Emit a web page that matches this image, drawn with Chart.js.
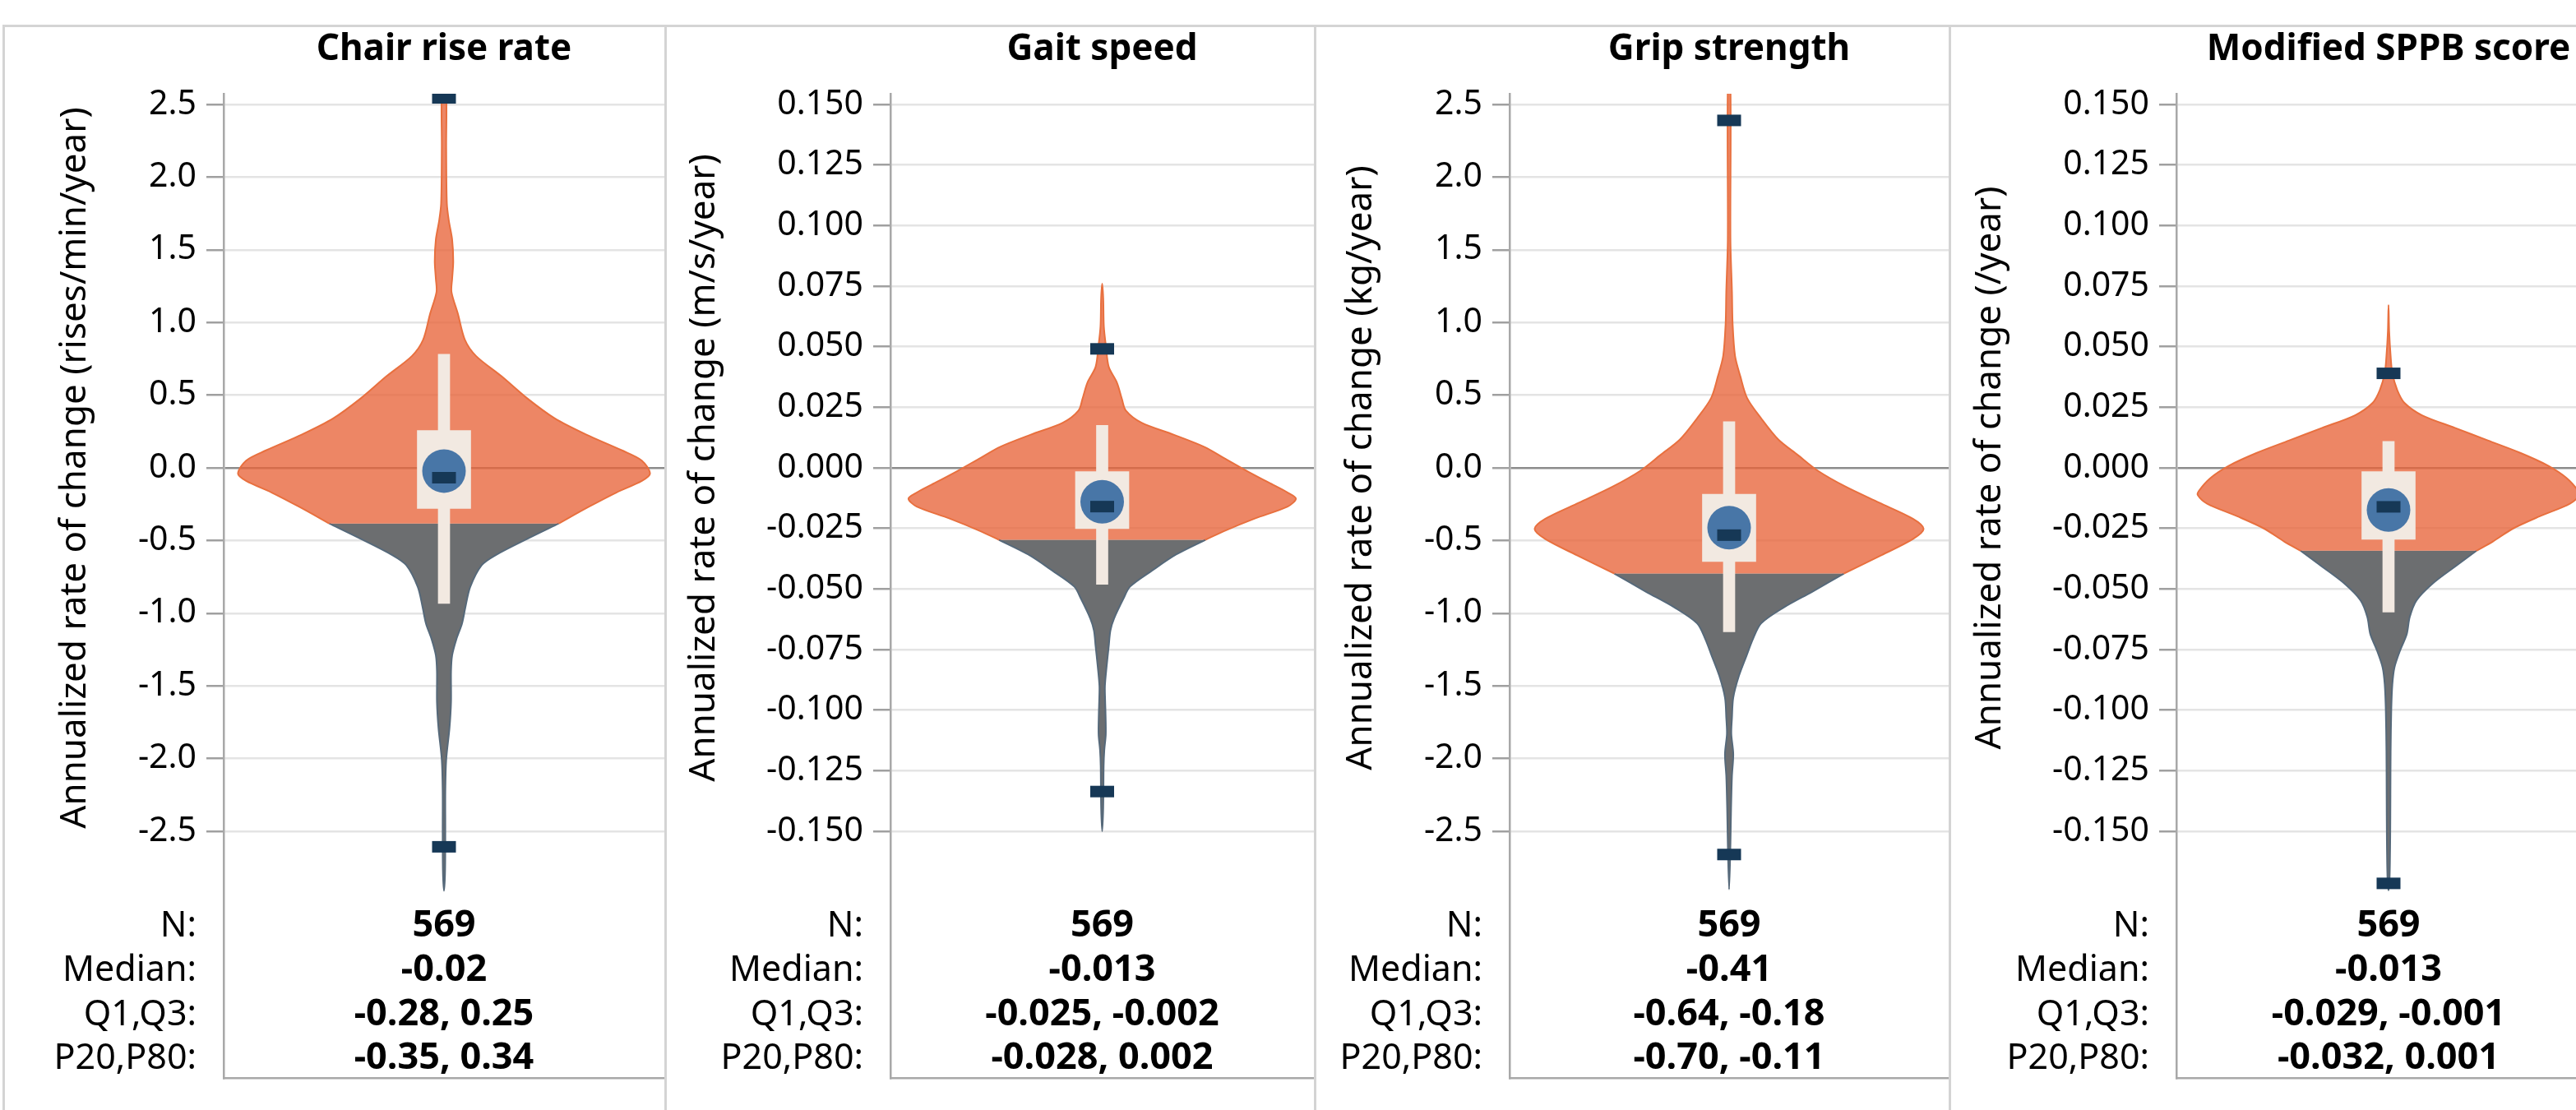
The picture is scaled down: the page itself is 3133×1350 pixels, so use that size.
<!DOCTYPE html>
<html lang="en">
<head>
<meta charset="UTF-8">
<title>Annualized rate of change</title>
<script src="https://cdn.jsdelivr.net/npm/chart.js"></script>
<style>
    body {
        margin: 0;
        width: 3133px;
        height: 1350px;
        overflow: hidden;
        position: relative;
        background: #fff;
        font-family: "Noto Sans", sans-serif;
    }
    .frame {
        position: absolute;
        top: 30px;
        height: 1330px;
        border-left: 3px solid #d4d4d4;
        border-top: 3px solid #d4d4d4;
    }
    .panel {
        position: absolute;
        top: 0;
        height: 1350px;
    }
</style>
</head>
<body>
<div class="frame" style="left:3px; width:805px"></div>
<div class="frame" style="left:808px; width:790px"></div>
<div class="frame" style="left:1598px; width:772px"></div>
<div class="frame" style="left:2370px; width:800px"></div>

<div class="panel" style="left:6px; width:802px"><canvas id="c0"></canvas></div>
<div class="panel" style="left:811px; width:787px"><canvas id="c1"></canvas></div>
<div class="panel" style="left:1601px; width:769px"><canvas id="c2"></canvas></div>
<div class="panel" style="left:2373px; width:790px"><canvas id="c3"></canvas></div>

<script>
// ---- data ----
const panelTitles = ['Chair rise rate', 'Gait speed', 'Grip strength', 'Modified SPPB score'];
const axisTitles = [
    'Annualized rate of change (rises/min/year)',
    'Annualized rate of change (m/s/year)',
    'Annualized rate of change (kg/year)',
    'Annualized rate of change (/year)'
];

const statLabels = ['N:', 'Median:', 'Q1,Q3:', 'P20,P80:'];
const statN = ['569', '569', '569', '569'];
const statMedian = ['-0.02', '-0.013', '-0.41', '-0.013'];
const statQ1Q3 = ['-0.28, 0.25', '-0.025, -0.002', '-0.64, -0.18', '-0.029, -0.001'];
const statP20P80 = ['-0.35, 0.34', '-0.028, 0.002', '-0.70, -0.11', '-0.032, 0.001'];

const ticksRate = [-2.5, -2.0, -1.5, -1.0, -0.5, 0.0, 0.5, 1.0, 1.5, 2.0, 2.5];
const ticksRateLabels = ['-2.5', '-2.0', '-1.5', '-1.0', '-0.5', '0.0', '0.5', '1.0', '1.5', '2.0', '2.5'];
const ticksSmall = [-0.150, -0.125, -0.100, -0.075, -0.050, -0.025, 0.000, 0.025, 0.050, 0.075, 0.100, 0.125, 0.150];
const ticksSmallLabels = ['-0.150', '-0.125', '-0.100', '-0.075', '-0.050', '-0.025', '0.000', '0.025', '0.050', '0.075', '0.100', '0.125', '0.150'];
const rangeRate = [-4.197, 2.5735];
const rangeSmall = [-0.2518, 0.1544];

// violin outlines: level (y value) and half width (in x-axis units, plot half width = 1)
const chairLevels = [2.62, 2.20, 1.82, 1.70, 1.57, 1.42, 1.30, 1.21, 1.06, 0.88, 0.77, 0.63, 0.48, 0.34, 0.23, 0.12, 0.05, -0.04, -0.09, -0.17, -0.27, -0.383, -0.49, -0.60, -0.67, -0.82, -0.96, -1.07, -1.18, -1.29, -1.40, -1.61, -1.79, -2.01, -2.23, -2.48, -2.77, -2.91];
const chairWidths = [0.009, 0.010, 0.013, 0.022, 0.037, 0.042, 0.037, 0.034, 0.063, 0.095, 0.145, 0.261, 0.376, 0.503, 0.644, 0.808, 0.898, 0.935, 0.898, 0.782, 0.655, 0.521, 0.376, 0.235, 0.171, 0.119, 0.097, 0.082, 0.056, 0.037, 0.032, 0.032, 0.025, 0.010, 0.006, 0.006, 0.005, 0];

const gaitLevels = [0.0760, 0.0700, 0.0582, 0.0500, 0.0417, 0.0351, 0.0285, 0.0236, 0.0186, 0.0137, 0.0087, 0.0038, -0.0012, -0.0061, -0.0102, -0.0127, -0.0160, -0.0209, -0.0259, -0.0297, -0.0358, -0.0424, -0.0490, -0.0539, -0.0622, -0.0671, -0.0737, -0.0820, -0.0900, -0.0960, -0.1017, -0.1100, -0.1166, -0.1230, -0.1400, -0.1500];
const gaitWidths = [0, 0.005, 0.008, 0.018, 0.031, 0.070, 0.093, 0.112, 0.186, 0.337, 0.481, 0.581, 0.682, 0.787, 0.876, 0.915, 0.876, 0.721, 0.581, 0.488, 0.349, 0.236, 0.132, 0.101, 0.056, 0.039, 0.031, 0.021, 0.013, 0.014, 0.016, 0.017, 0.010, 0.007, 0.005, 0];

const gripLevels = [2.62, 1.57, 1.21, 0.99, 0.77, 0.63, 0.48, 0.34, 0.195, 0.087, -0.02, -0.13, -0.24, -0.35, -0.42, -0.49, -0.60, -0.727, -0.853, -0.96, -1.07, -1.18, -1.29, -1.43, -1.58, -1.72, -1.83, -1.97, -2.12, -2.34, -2.59, -2.90];
const gripWidths = [0.006, 0.006, 0.013, 0.016, 0.027, 0.051, 0.082, 0.146, 0.224, 0.314, 0.404, 0.531, 0.684, 0.837, 0.886, 0.837, 0.695, 0.523, 0.378, 0.250, 0.146, 0.108, 0.080, 0.045, 0.019, 0.013, 0.010, 0.019, 0.013, 0.009, 0.006, 0];

const sppbLevels = [0.0672, 0.0564, 0.0460, 0.0390, 0.0321, 0.0269, 0.0217, 0.0165, 0.0113, 0.0061, 0.0009, -0.0043, -0.0095, -0.0113, -0.0148, -0.0200, -0.0252, -0.0304, -0.0342, -0.0408, -0.0477, -0.0547, -0.0616, -0.0686, -0.0755, -0.0824, -0.0894, -0.0998, -0.1170, -0.1350, -0.1520, -0.1692, -0.1744];
const sppbWidths = [0, 0.003, 0.010, 0.018, 0.041, 0.074, 0.158, 0.313, 0.468, 0.623, 0.752, 0.841, 0.894, 0.899, 0.855, 0.713, 0.584, 0.492, 0.415, 0.313, 0.209, 0.132, 0.100, 0.086, 0.054, 0.028, 0.018, 0.013, 0.010, 0.009, 0.008, 0.005, 0];

const splitValues = [-0.383, -0.0297, -0.727, -0.0342];
const boxLow = [-0.279, -0.0251, -0.644, -0.0295];
const boxHigh = [0.257, -0.0016, -0.181, -0.0016];
const whiskerLow = [-0.933, -0.0481, -1.128, -0.0595];
const whiskerHigh = [0.781, 0.0175, 0.318, 0.0109];
const dotValues = [-0.022, -0.014, -0.412, -0.0174];
const barMarkValues = [-0.068, -0.016, -0.463, -0.0161];
const upperMarks = [2.545, 0.0491, 2.39, 0.039];
const lowerMarks = [-2.607, -0.1336, -2.66, -0.1715];

// ---- layout ----
const canvasLeft = [6, 811, 1601, 2373];
const axisX = [272, 1083, 1836, 2647];

const ORANGE = 'rgba(232, 100, 58, 0.78)';
const ORANGE_EDGE = '#e8703f';
const GREY = '#6c6e70';
const GREY_EDGE = '#56697a';
const CREAM = '#f2e9e1';
const BLUE = '#4876a7';
const NAVY = '#163856';

Chart.defaults.font.family = '"Noto Sans", sans-serif';
Chart.defaults.color = '#000';

function upperShape(levels, widths, split) {
    const right = [], left = [];
    levels.forEach((v, k) => {
        if (v >= split) {
            right.push({ x: widths[k], y: v });
            if (widths[k] > 0) left.push({ x: -widths[k], y: v });
        }
    });
    return right.reverse().concat(left);
}

function lowerShape(levels, widths, split) {
    const right = [], left = [];
    levels.forEach((v, k) => {
        if (v <= split) {
            right.push({ x: widths[k], y: v });
            if (widths[k] > 0) left.push({ x: -widths[k], y: v });
        }
    });
    return right.concat(left.reverse());
}

const panelText = {
    id: 'panelText',
    afterDraw(chart, args, opts) {
        const { ctx, chartArea, scales } = chart;
        const x = scales.x, y = scales.y;
        const labelRight = chartArea.left - 33;
        ctx.save();
        ctx.fillStyle = '#000';

        ctx.font = '41px "Noto Sans"';
        let widest = 0;
        y.ticks.forEach(t => { widest = Math.max(widest, ctx.measureText(t.label).width); });
        const midY = (y.getPixelForValue(y.ticks[0].value) + y.getPixelForValue(y.ticks[y.ticks.length - 1].value)) / 2;
        ctx.save();
        ctx.translate(labelRight - widest - 76, midY);
        ctx.rotate(-Math.PI / 2);
        ctx.font = '44px "Noto Sans"';
        ctx.textAlign = 'center';
        ctx.textBaseline = 'middle';
        ctx.fillText(opts.axisTitle, 0, 0);
        ctx.restore();

        const cx = x.getPixelForValue(0);
        const rowOffsets = [172, 118, 64, 11];
        ctx.textBaseline = 'alphabetic';
        opts.values.forEach((v, k) => {
            const by = chartArea.bottom - rowOffsets[k];
            ctx.font = '43px "Noto Sans"';
            ctx.textAlign = 'right';
            ctx.fillText(statLabels[k], labelRight, by);
            ctx.font = 'bold 45px "Noto Sans"';
            ctx.textAlign = 'center';
            ctx.fillText(v, cx, by);
        });
        ctx.restore();
    }
};

const panels = [
    { levels: chairLevels, widths: chairWidths, ticks: ticksRate, labels: ticksRateLabels, range: rangeRate },
    { levels: gaitLevels, widths: gaitWidths, ticks: ticksSmall, labels: ticksSmallLabels, range: rangeSmall },
    { levels: gripLevels, widths: gripWidths, ticks: ticksRate, labels: ticksRateLabels, range: rangeRate },
    { levels: sppbLevels, widths: sppbWidths, ticks: ticksSmall, labels: ticksSmallLabels, range: rangeSmall }
];

panels.forEach((p, i) => {
    const markStyle = {
        type: 'scatter',
        pointStyle: 'line',
        pointRadius: 14.5,
        pointBorderWidth: 14,
        pointBorderColor: NAVY,
        pointBackgroundColor: NAVY,
        order: 1
    };
    new Chart(document.getElementById('c' + i), {
        type: 'scatter',
        data: {
            datasets: [
                Object.assign({ data: [{ x: 0, y: barMarkValues[i] }] }, markStyle),
                Object.assign({ data: [{ x: 0, y: upperMarks[i] }, { x: 0, y: lowerMarks[i] }] }, markStyle),
                {
                    type: 'scatter',
                    data: [{ x: 0, y: dotValues[i] }],
                    pointRadius: 26.5,
                    pointBackgroundColor: BLUE,
                    pointBorderWidth: 0,
                    order: 2
                },
                {
                    type: 'bar',
                    data: [{ x: 0, y: [boxLow[i], boxHigh[i]] }],
                    backgroundColor: CREAM,
                    borderWidth: 0,
                    grouped: false,
                    barThickness: 65,
                    maxBarThickness: 65,
                    order: 3
                },
                {
                    type: 'bar',
                    data: [{ x: 0, y: [whiskerLow[i], whiskerHigh[i]] }],
                    backgroundColor: CREAM,
                    borderWidth: 0,
                    grouped: false,
                    barThickness: 14,
                    maxBarThickness: 14,
                    order: 4
                },
                {
                    type: 'line',
                    data: upperShape(p.levels, p.widths, splitValues[i]),
                    fill: 'shape',
                    backgroundColor: ORANGE,
                    borderColor: ORANGE_EDGE,
                    borderWidth: 2,
                    pointRadius: 0,
                    tension: 0.3,
                    order: 5
                },
                {
                    type: 'line',
                    data: lowerShape(p.levels, p.widths, splitValues[i]),
                    fill: 'shape',
                    backgroundColor: GREY,
                    borderColor: GREY_EDGE,
                    borderWidth: 2,
                    pointRadius: 0,
                    tension: 0.3,
                    order: 5
                }
            ]
        },
        options: {
            responsive: true,
            maintainAspectRatio: false,
            animation: false,
            events: [],
            layout: { autoPadding: false, padding: { top: 25.6, bottom: 39, left: 0, right: 0 } },
            plugins: {
                legend: { display: false },
                tooltip: { enabled: false },
                title: {
                    display: true,
                    text: panelTitles[i],
                    fullSize: false,
                    color: '#000',
                    font: { size: 44, weight: 'bold' },
                    padding: { top: 8, bottom: 27.6 }
                },
                panelText: {
                    axisTitle: axisTitles[i],
                    values: [statN[i], statMedian[i], statQ1Q3[i], statP20P80[i]]
                }
            },
            scales: {
                x: {
                    type: 'linear',
                    min: -1,
                    max: 1,
                    offset: false,
                    ticks: { display: false },
                    grid: { display: false, offset: false, drawTicks: false },
                    border: { display: true, color: '#a8a8a8', width: 2.5 },
                    afterFit: s => { s.height = 0; }
                },
                y: {
                    type: 'linear',
                    min: p.range[0],
                    max: p.range[1],
                    beginAtZero: false,
                    afterBuildTicks: s => { s.ticks = p.ticks.map(v => ({ value: v })); },
                    afterFit: s => { s.width = axisX[i] - canvasLeft[i]; },
                    ticks: {
                        autoSkip: false,
                        padding: 12,
                        color: '#000',
                        font: { size: 41 },
                        callback: (v, k) => p.labels[k]
                    },
                    grid: {
                        color: c => (c.tick && c.tick.value === 0 ? '#8c8c8c' : '#e4e4e4'),
                        lineWidth: 2.5,
                        tickLength: 21,
                        tickColor: '#a0a0a0'
                    },
                    border: { color: '#a8a8a8', width: 2.5 }
                }
            }
        },
        plugins: [panelText]
    });
});
</script>
</body>
</html>
